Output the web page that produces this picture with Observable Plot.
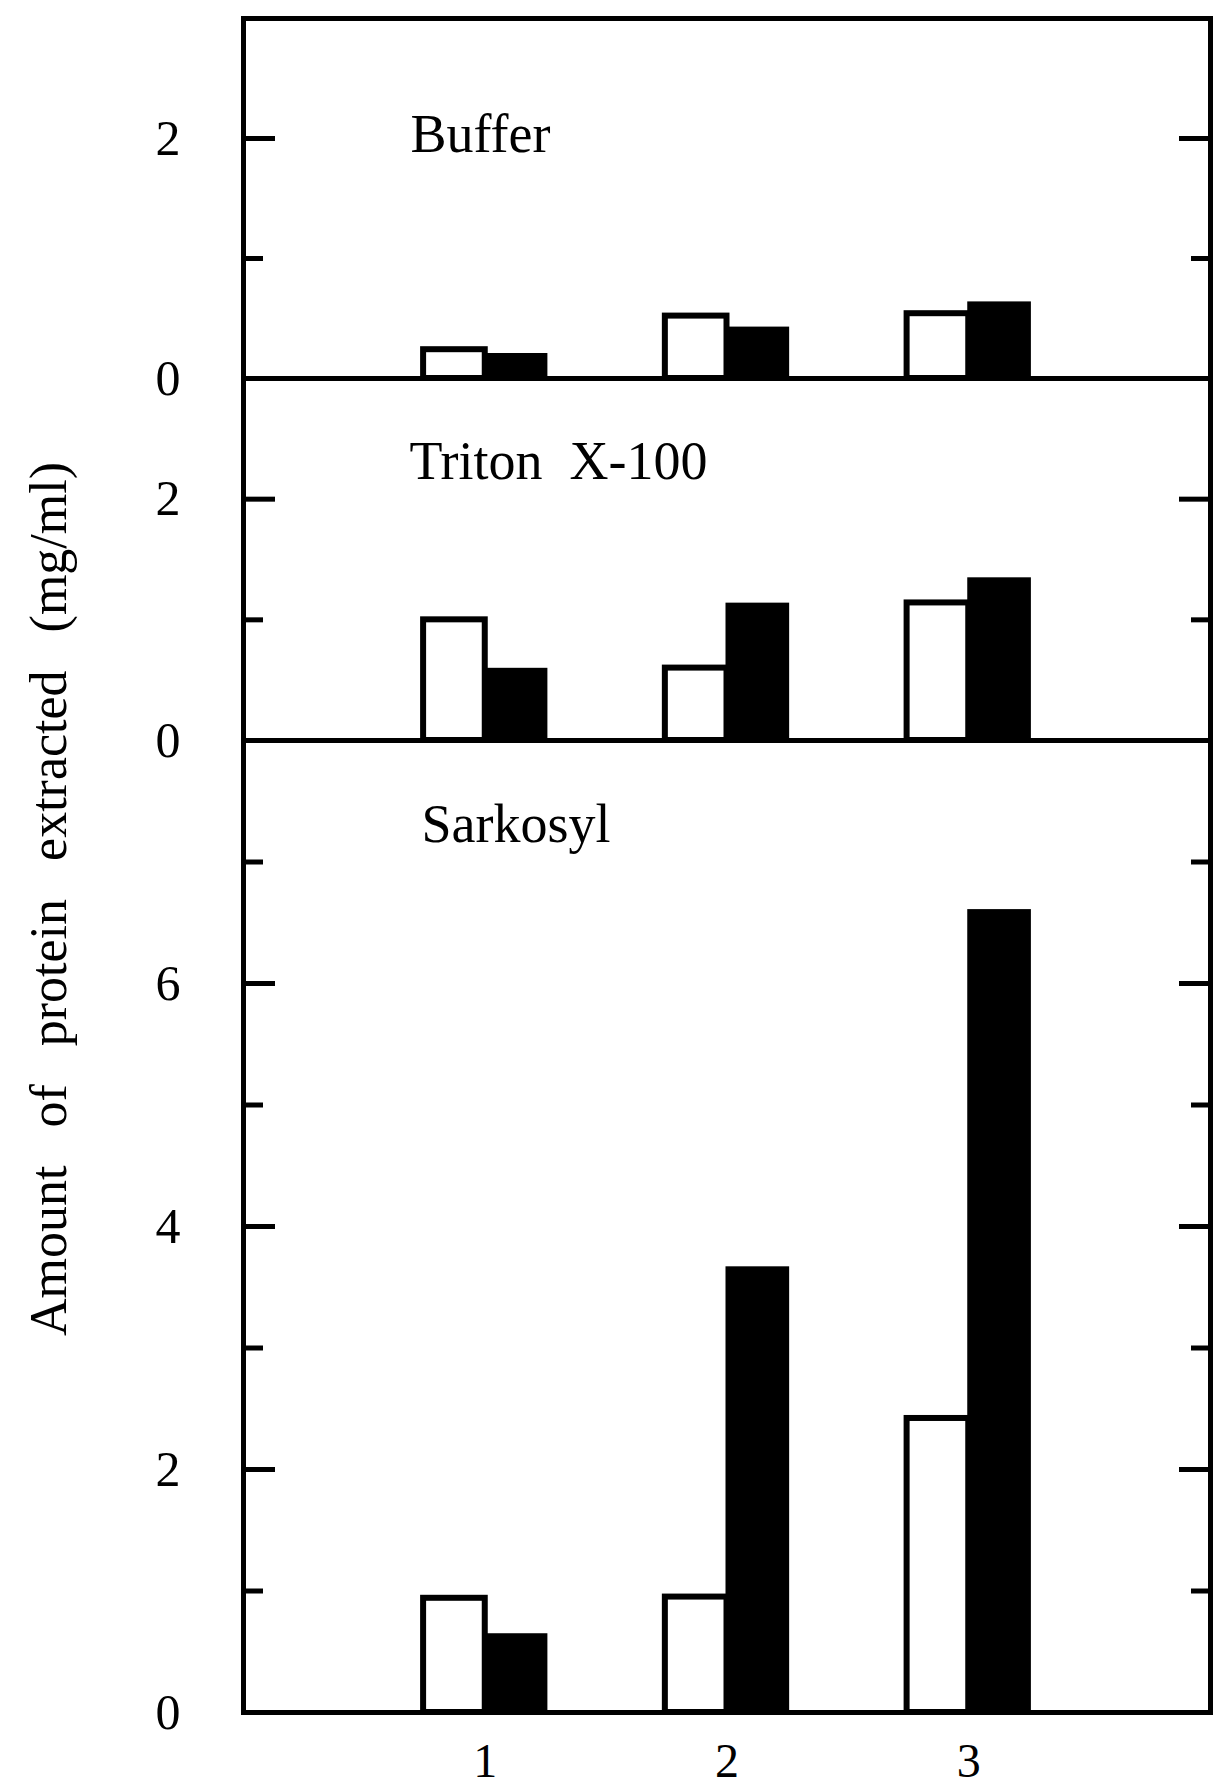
<!DOCTYPE html>
<html>
<head>
<meta charset="utf-8">
<script src="https://cdn.jsdelivr.net/npm/d3@7"></script>
<script src="https://cdn.jsdelivr.net/npm/@observablehq/plot@0.6"></script>
<style>
  body { margin: 0; background: #fff; }
  #chart { position: relative; width: 1214px; height: 1791px; }
  #chart svg { display: block; overflow: visible; }
  #chart svg text { white-space: pre; }
  #ylabel {
    position: absolute; left: 48px; top: 899px;
    transform: translate(-50%, -50%) rotate(-90deg);
    white-space: nowrap; font-family: "Liberation Serif", serif; font-size: 52px;
    word-spacing: 25px; color: #000;
  }
</style>
</head>
<body>
<div id="chart"><div id="ylabel">Amount of protein extracted (mg/ml)</div></div>
<script>
// ---- data ----
const categories = [1, 2, 3];
const xTickLabels = ["1", "2", "3"];
const panelNames = ["Buffer", "Triton  X-100", "Sarkosyl"];
const bufferOpen = [0.24, 0.52, 0.54];
const bufferFilled = [0.20, 0.42, 0.63];
const tritonOpen = [1.00, 0.60, 1.14];
const tritonFilled = [0.59, 1.13, 1.34];
const sarkosylOpen = [0.94, 0.95, 2.42];
const sarkosylFilled = [0.64, 3.66, 6.60];
const yMax = [3, 3, 8];
const yLabelTicks = [[0, 2], [0, 2], [0, 2, 4, 6]];

const openValues = [bufferOpen, tritonOpen, sarkosylOpen];
const filledValues = [bufferFilled, tritonFilled, sarkosylFilled];

// ---- layout / style ----
const BAR = 0.255; // bar width in category units
const layouts = [
  {height: 378, marginTop: 18, marginBottom: 0, dx: 167, dy: 95},
  {height: 362, marginTop: 0, marginBottom: 0, dx: 166, dy: 62},
  {height: 1051, marginTop: 0, marginBottom: 79, dx: 178, dy: 63}
];
const FONT = "Liberation Serif";

function makePanel(idx) {
  const L = layouts[idx];
  const rows = [];
  categories.forEach((c, i) => {
    rows.push({category: c, series: "open", value: openValues[idx][i]});
    rows.push({category: c, series: "filled", value: filledValues[idx][i]});
  });
  const majors = d3.range(2, yMax[idx], 2);
  const minors = d3.range(1, yMax[idx], 2);
  const marks = [
    Plot.rectY(rows.filter(d => d.series === "open"), {
      x1: d => d.category - BAR, x2: d => d.category, y: "value",
      fill: "white", stroke: "black", strokeWidth: 6
    }),
    Plot.rectY(rows.filter(d => d.series === "filled"), {
      x1: d => d.category, x2: d => d.category + BAR, y: "value",
      fill: "black", stroke: "black", strokeWidth: 2
    }),
    // inward ticks, left and right
    Plot.axisY({anchor: "left", ticks: minors, tickSize: -20, fill: "none", strokeWidth: 5, label: null}),
    Plot.axisY({anchor: "left", ticks: majors, tickSize: -32, fill: "none", strokeWidth: 5, label: null}),
    Plot.axisY({anchor: "right", ticks: minors, tickSize: -20, fill: "none", strokeWidth: 5, label: null}),
    Plot.axisY({anchor: "right", ticks: majors, tickSize: -32, fill: "none", strokeWidth: 5, label: null}),
    // tick labels
    Plot.axisY({anchor: "left", ticks: yLabelTicks[idx], tickSize: 0, tickPadding: 63,
      fontSize: 50, fontFamily: FONT, label: null, tickFormat: d => String(d)}),
    Plot.frame({stroke: "black", strokeWidth: 5}),
    Plot.text([panelNames[idx]], {
      text: d => d, frameAnchor: "top-left", textAnchor: "start", lineAnchor: "top",
      dx: L.dx, dy: L.dy, fontSize: 54, fontFamily: FONT, fill: "black"
    })
  ];
  if (idx === 2) {
    marks.push(Plot.axisX({anchor: "bottom", ticks: categories, tickSize: 0, tickPadding: 30,
      fontSize: 48, fontFamily: FONT, label: null,
      tickFormat: d => xTickLabels[categories.indexOf(d)]}));
  }
  return Plot.plot({
    width: 1214,
    height: L.height,
    marginLeft: 243,
    marginRight: 4,
    marginTop: L.marginTop,
    marginBottom: L.marginBottom,
    style: {overflow: "visible", background: "transparent", fontFamily: FONT, color: "black"},
    x: {domain: [0, 4], axis: null},
    y: {domain: [0, yMax[idx]], axis: null},
    marks
  });
}

const chart = document.getElementById("chart");
for (let i = 0; i < 3; i++) chart.appendChild(makePanel(i));
</script>
</body>
</html>
